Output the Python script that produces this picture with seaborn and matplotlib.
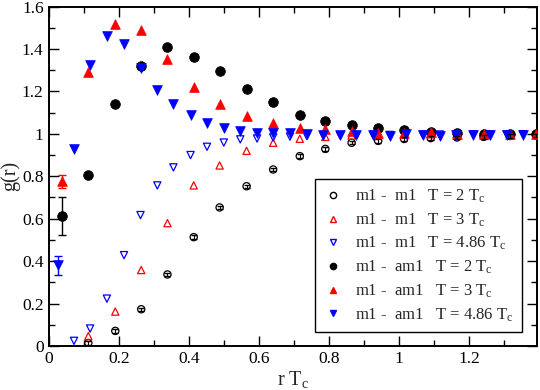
import numpy as np
import pandas as pd
import seaborn as sns
import matplotlib
matplotlib.use("Agg")
import matplotlib.pyplot as plt
from matplotlib.lines import Line2D
from matplotlib.ticker import MultipleLocator, FuncFormatter

# r T_c positions
x_T2 = [0.036, 0.112, 0.189, 0.263, 0.338, 0.413, 0.487, 0.564, 0.640, 0.716,
        0.789, 0.864, 0.940, 1.014, 1.090, 1.165, 1.241, 1.316, 1.392]
x_T3 = [0.036, 0.112, 0.189, 0.263, 0.338, 0.413, 0.487, 0.564, 0.640, 0.716,
        0.789, 0.864, 0.940, 1.014, 1.090, 1.165, 1.241, 1.316, 1.392]
x_T486 = [0.024, 0.071, 0.117, 0.165, 0.214, 0.261, 0.309, 0.355, 0.404, 0.451,
          0.499, 0.546, 0.594, 0.640, 0.688, 0.736, 0.783, 0.831, 0.878, 0.926,
          0.973, 1.019, 1.067, 1.116, 1.163, 1.212, 1.259, 1.307, 1.354]

# m1 - m1 (open markers), first point missing
g_mm_T2 = [0.014, 0.071, 0.173, 0.337, 0.513, 0.653, 0.753, 0.832, 0.895,
           0.929, 0.958, 0.967, 0.976, 0.980, 0.983, 0.986, 0.990, 0.993]
g_mm_T3 = [0.046, 0.162, 0.358, 0.579, 0.757, 0.851, 0.920, 0.958, 0.977,
           0.986, 0.992, 0.995, 0.997, 0.998, 0.999, 1.000, 1.000, 1.000]
g_mm_T486 = [0.024, 0.082, 0.223, 0.428, 0.617, 0.757, 0.842, 0.900, 0.939,
             0.959, 0.974, 0.978, 0.983, 0.987, 0.990, 0.992, 0.993, 0.994,
             0.995, 0.995, 0.996, 0.996, 0.997, 0.997, 0.997, 0.998, 0.998, 0.998]

# m1 - am1 (filled markers)
g_mam_T2 = [0.613, 0.808, 1.140, 1.320, 1.409, 1.363, 1.296, 1.212, 1.151, 1.090,
            1.061, 1.042, 1.027, 1.017, 1.008, 1.002, 1.000, 0.998, 0.998]
g_mam_T3 = [0.777, 1.292, 1.516, 1.489, 1.352, 1.219, 1.139, 1.083, 1.049, 1.027,
            1.021, 1.014, 1.005, 1.003, 1.008, 1.001, 1.000, 1.000, 1.000]
g_mam_T486 = [0.381, 0.928, 1.327, 1.461, 1.423, 1.311, 1.209, 1.139, 1.090, 1.052,
              1.030, 1.014, 1.005, 1.002, 1.002, 0.999, 0.997, 0.997, 0.997, 0.997,
              0.992, 0.999, 0.997, 0.992, 0.997, 0.995, 0.995, 0.995, 0.995]

# error bars (only the visible ones)
err_mm_T2 = [0.008, 0.008, 0.008, 0.008, 0.008, 0.008, 0.008, 0.008, 0.008,
             0.008, 0.008, 0.008, 0.008, 0.008, 0.008, 0.008, 0.008, 0.008]
err_first = {"T2": 0.09, "T3": 0.03, "T486": 0.045}

labels = [
    r"m1 -  m1   T = 2 T$_{\rm c}$",
    r"m1 -  m1   T = 3 T$_{\rm c}$",
    r"m1 -  m1   T = 4.86 T$_{\rm c}$",
    r"m1 -  am1   T = 2 T$_{\rm c}$",
    r"m1 -  am1   T = 3 T$_{\rm c}$",
    r"m1 -  am1   T = 4.86 T$_{\rm c}$",
]

sns.set_theme(style="ticks")
plt.rcParams["font.family"] = ["Liberation Serif", "DejaVu Serif"]
plt.rcParams["mathtext.fontset"] = "custom"
plt.rcParams["mathtext.rm"] = "Liberation Serif"
plt.rcParams["mathtext.it"] = "Liberation Serif:italic"

fig = plt.figure(figsize=(5.4, 3.9), dpi=100)
ax = fig.add_axes([0.091, 0.113, 0.903, 0.870])

series = [
    (x_T2[1:], g_mm_T2, "o", "black", False, 5.2),
    (x_T3[1:], g_mm_T3, "^", "red", False, 5.2),
    (x_T486[1:], g_mm_T486, "v", "blue", False, 5.2),
    (x_T2, g_mam_T2, "o", "black", True, 7.0),
    (x_T3, g_mam_T3, "^", "red", True, 7.0),
    (x_T486, g_mam_T486, "v", "blue", True, 7.0),
]

for xs, ys, mk, col, filled, ms in series:
    df = pd.DataFrame({"r": xs, "g": ys})
    if filled:
        sns.scatterplot(data=df, x="r", y="g", marker=mk, color=col, s=ms ** 2,
                        edgecolor=col, linewidth=0.5, ax=ax, zorder=3)
    else:
        sns.scatterplot(data=df, x="r", y="g", marker=mk, s=ms ** 2,
                        facecolor="none", edgecolor=col, linewidth=0.9,
                        ax=ax, zorder=3)

# error bars
ax.errorbar(x_T2[1:], g_mm_T2, yerr=err_mm_T2, fmt="none", ecolor="black",
            elinewidth=0.8, capsize=2, zorder=4)
ax.errorbar([x_T2[0]], [g_mam_T2[0]], yerr=[err_first["T2"]], fmt="none",
            ecolor="black", elinewidth=1.0, capsize=3, zorder=4)
ax.errorbar([x_T3[0]], [g_mam_T3[0]], yerr=[err_first["T3"]], fmt="none",
            ecolor="red", elinewidth=1.0, capsize=3, zorder=4)
ax.errorbar([x_T486[0]], [g_mam_T486[0]], yerr=[err_first["T486"]], fmt="none",
            ecolor="blue", elinewidth=1.0, capsize=3, zorder=4)

ax.set_xlim(0, 1.393)
ax.set_ylim(0, 1.6)
ax.xaxis.set_major_locator(MultipleLocator(0.2))
ax.xaxis.set_minor_locator(MultipleLocator(0.1))
ax.yaxis.set_major_locator(MultipleLocator(0.2))
ax.yaxis.set_minor_locator(MultipleLocator(0.1))
fmt = FuncFormatter(lambda v, p: "%g" % round(v, 3))
ax.xaxis.set_major_formatter(fmt)
ax.yaxis.set_major_formatter(fmt)
ax.tick_params(which="both", direction="in", top=True, right=True,
               labelsize=12.5, colors="black", width=1.0, pad=4)
ax.tick_params(which="major", length=7)
ax.tick_params(which="minor", length=4)
for sp in ax.spines.values():
    sp.set_linewidth(1.4)
    sp.set_color("black")

ax.set_xlabel(r"r T$_{\rm c}$", fontsize=14.5, labelpad=1)
ax.set_ylabel("g(r)", fontsize=14.5, labelpad=1)

handles = [
    Line2D([], [], ls="none", marker="o", mfc="none", mec="black", ms=4.5),
    Line2D([], [], ls="none", marker="^", mfc="none", mec="red", ms=4.5),
    Line2D([], [], ls="none", marker="v", mfc="none", mec="blue", ms=4.5),
    Line2D([], [], ls="none", marker="o", mfc="black", mec="black", ms=4.5),
    Line2D([], [], ls="none", marker="^", mfc="red", mec="red", ms=4.5),
    Line2D([], [], ls="none", marker="v", mfc="blue", mec="blue", ms=4.5),
]
leg = ax.legend(handles, labels, loc="lower right", bbox_to_anchor=(0.969, 0.041),
                borderaxespad=0, fontsize=12, frameon=True, fancybox=False,
                framealpha=1, edgecolor="black", handlelength=1.2,
                handletextpad=0.7, labelspacing=0.38, borderpad=0.5)
leg.get_frame().set_linewidth(1.0)

fig.savefig("out.png", dpi=100)
plt.close(fig)
